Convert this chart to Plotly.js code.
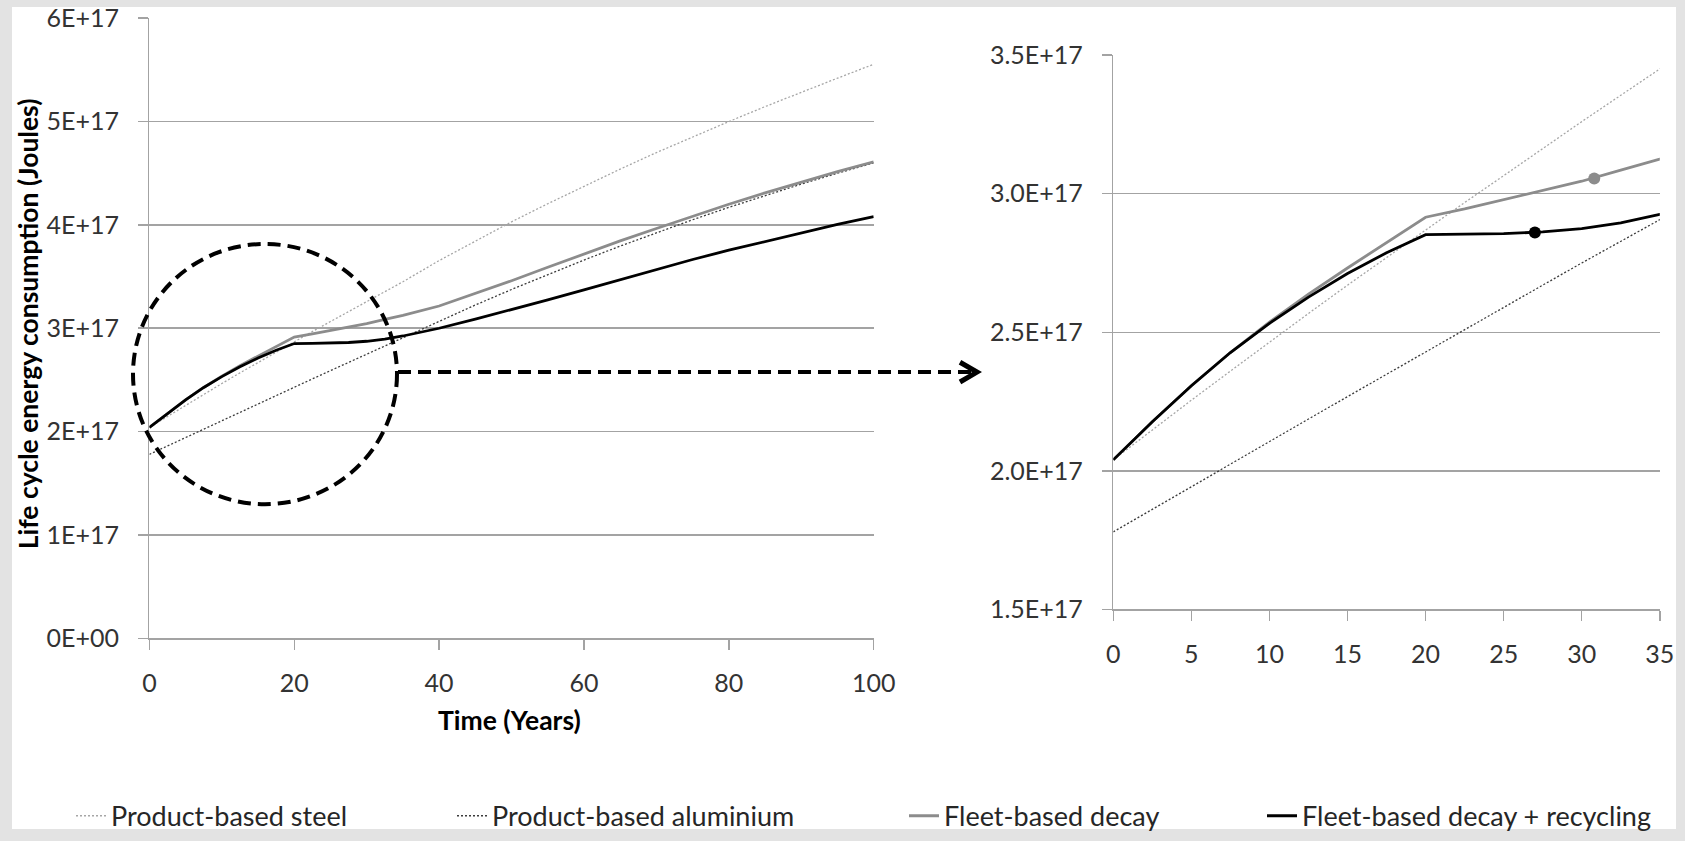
<!DOCTYPE html>
<html>
<head>
<meta charset="utf-8">
<script src="https://cdn.plot.ly/plotly-3.0.1.min.js"></script>
<style>
  html, body { margin: 0; padding: 0; background: #e3e3e3; width: 1685px; height: 841px; overflow: hidden; }
  #chart { position: absolute; left: 0; top: 0; width: 1685px; height: 841px; }
</style>
</head>
<body>
<div id="chart"></div>
<script>
// ---- Data ----
const years = [0, 2.5, 5, 7.5, 10, 12.5, 15, 17.5, 20, 22.5, 25, 27.5, 30, 32.5, 35,
               40, 45, 50, 55, 60, 65, 70, 75, 80, 85, 90, 95, 100];

const steel = [2.04e17, 2.148e17, 2.255e17, 2.36e17, 2.465e17, 2.568e17, 2.67e17, 2.77e17, 2.87e17,
               2.968e17, 3.065e17, 3.163e17, 3.26e17, 3.355e17, 3.45e17,
               3.655e17, 3.845e17, 4.03e17, 4.205e17, 4.375e17, 4.54e17, 4.7e17, 4.853e17, 5.0e17,
               5.145e17, 5.285e17, 5.42e17, 5.555e17];

const aluminium = [1.78e17, 1.862e17, 1.943e17, 2.025e17, 2.106e17, 2.187e17, 2.268e17, 2.349e17, 2.43e17,
                   2.51e17, 2.59e17, 2.67e17, 2.75e17, 2.83e17, 2.91e17,
                   3.07e17, 3.225e17, 3.375e17, 3.52e17, 3.66e17, 3.795e17, 3.925e17, 4.05e17, 4.17e17,
                   4.285e17, 4.395e17, 4.5e17, 4.6e17];

const fleetDecay = [2.04e17, 2.177e17, 2.307e17, 2.427e17, 2.537e17, 2.638e17, 2.732e17, 2.823e17, 2.915e17,
                    2.945e17, 2.978e17, 3.012e17, 3.045e17, 3.085e17, 3.125e17,
                    3.215e17, 3.335e17, 3.46e17, 3.59e17, 3.72e17, 3.845e17, 3.965e17, 4.085e17, 4.2e17,
                    4.31e17, 4.415e17, 4.515e17, 4.61e17];

const fleetRecycling = [2.04e17, 2.177e17, 2.307e17, 2.427e17, 2.532e17, 2.627e17, 2.712e17, 2.787e17, 2.852e17,
                        2.853e17, 2.856e17, 2.862e17, 2.874e17, 2.895e17, 2.925e17,
                        3.0e17, 3.088e17, 3.18e17, 3.275e17, 3.372e17, 3.47e17, 3.57e17, 3.665e17, 3.755e17,
                        3.84e17, 3.925e17, 4.005e17, 4.08e17];

const decayMarkerX = [30.8];
const decayMarkerY = [3.055e17];
const recyclingMarkerX = [27];
const recyclingMarkerY = [2.86e17];

const seriesNames = ['Product-based steel', 'Product-based aluminium', 'Fleet-based decay', 'Fleet-based decay + recycling'];

const leftXTicks = [0, 20, 40, 60, 80, 100];
const leftYTicks = [0, 1e17, 2e17, 3e17, 4e17, 5e17, 6e17];
const leftYTickText = ['0E+00', '1E+17', '2E+17', '3E+17', '4E+17', '5E+17', '6E+17'];
const rightXTicks = [0, 5, 10, 15, 20, 25, 30, 35];
const rightYTicks = [1.5e17, 2.0e17, 2.5e17, 3.0e17, 3.5e17];
const rightYTickText = ['1.5E+17', '2.0E+17', '2.5E+17', '3.0E+17', '3.5E+17'];

const xTitle = 'Time (Years)';
const yTitle = 'Life cycle energy consumption (Joules)';

// ---- Styles ----
const FONT = 'Lato, "Open Sans", sans-serif';
const styles = [
  {color: '#a6a6a6', width: 1.3, dash: '2px,2px'},
  {color: '#3c3c3c', width: 1.3, dash: '2px,2px'},
  {color: '#8c8c8c', width: 2.8, dash: 'solid'},
  {color: '#000000', width: 2.8, dash: 'solid'}
];
const seriesData = [steel, aluminium, fleetDecay, fleetRecycling];
const legendIds = ['legend', 'legend2', 'legend3', 'legend4'];

const traces = [];
seriesData.forEach((ys, i) => {
  traces.push({
    x: years, y: ys, type: 'scatter', mode: 'lines', name: seriesNames[i],
    line: styles[i], xaxis: 'x', yaxis: 'y', legend: legendIds[i], showlegend: true,
    hoverinfo: 'skip'
  });
});
seriesData.forEach((ys, i) => {
  traces.push({
    x: years, y: ys, type: 'scatter', mode: 'lines', name: seriesNames[i],
    line: styles[i], xaxis: 'x2', yaxis: 'y2', showlegend: false, hoverinfo: 'skip'
  });
});
traces.push({x: decayMarkerX, y: decayMarkerY, type: 'scatter', mode: 'markers',
  marker: {color: '#8c8c8c', size: 12}, xaxis: 'x2', yaxis: 'y2', showlegend: false, hoverinfo: 'skip'});
traces.push({x: recyclingMarkerX, y: recyclingMarkerY, type: 'scatter', mode: 'markers',
  marker: {color: '#000000', size: 12}, xaxis: 'x2', yaxis: 'y2', showlegend: false, hoverinfo: 'skip'});

// pixel -> paper helpers (div covers the whole 1685 x 841 page)
const PX = px => px / 1685;
const PY = py => (841 - py) / 841;

const gridColor = '#a3a3a3';
const tickFont = {family: FONT, size: 25, color: '#333333'};

function xAxis(domain, range, ticks, anchor) {
  return {
    domain: domain, range: range, tickmode: 'array', tickvals: ticks,
    showgrid: false, zeroline: false, showline: true, linecolor: gridColor, linewidth: 1.5,
    ticks: 'outside', ticklen: 10, tickwidth: 1.5, tickcolor: gridColor,
    tickfont: tickFont, ticklabelstandoff: 12, ticklabeloverflow: 'allow', anchor: anchor, fixedrange: true
  };
}
function yAxis(domain, range, ticks, text, anchor) {
  return {
    domain: domain, range: range, tickmode: 'array', tickvals: ticks, ticktext: text,
    showgrid: true, gridcolor: gridColor, gridwidth: 1.5, zeroline: false,
    showline: true, linecolor: gridColor, linewidth: 1.5,
    ticks: 'outside', ticklen: 10, tickwidth: 1.5, tickcolor: gridColor,
    tickfont: tickFont, ticklabelstandoff: 14, ticklabeloverflow: 'allow', anchor: anchor, fixedrange: true
  };
}

function legendAt(px) {
  return {x: PX(px), y: PY(828), xanchor: 'left', yanchor: 'middle', orientation: 'h',
          bgcolor: 'rgba(0,0,0,0)', font: {family: FONT, size: 27, color: '#262626'}};
}

const layout = {
  width: 1685, height: 841,
  margin: {l: 0, r: 0, t: 0, b: 0, pad: 0},
  paper_bgcolor: '#e3e3e3', plot_bgcolor: '#ffffff',
  font: {family: FONT, color: '#262626'},
  xaxis: xAxis([PX(149.4), PX(873.7)], [0, 100], leftXTicks, 'y'),
  yaxis: yAxis([PY(647.5), PY(18.5)], [0, 6e17], leftYTicks, leftYTickText, 'x'),
  xaxis2: xAxis([PX(1113.3), PX(1659.8)], [0, 35], rightXTicks, 'y2'),
  yaxis2: yAxis([PY(618.3), PY(55.9)], [1.5e17, 3.5e17], rightYTicks, rightYTickText, 'x2'),
  legend: legendAt(71),
  legend2: legendAt(452),
  legend3: legendAt(904),
  legend4: legendAt(1262),
  annotations: [
    {text: '<b>' + yTitle + '</b>', xref: 'paper', yref: 'paper', x: PX(28), y: PY(329),
     xanchor: 'center', yanchor: 'middle', textangle: -90, showarrow: false,
     font: {family: FONT, size: 26.5, color: '#000000'}},
    {text: '<b>' + xTitle + '</b>', xref: 'paper', yref: 'paper', x: PX(509), y: PY(730),
     xanchor: 'center', yanchor: 'middle', showarrow: false,
     font: {family: FONT, size: 26.5, color: '#000000'}}
  ],
  shapes: [
    {type: 'rect', xref: 'paper', yref: 'paper', x0: PX(12), x1: PX(1676), y0: PY(841), y1: PY(7),
     layer: 'below', line: {width: 0}, fillcolor: '#ffffff'},
    {type: 'circle', xref: 'paper', yref: 'paper', x0: PX(133), x1: PX(397), y0: PY(511.5), y1: PY(247.5),
     line: {color: '#000000', width: 4, dash: '13px,7px'}, fillcolor: 'rgba(0,0,0,0)'},
    {type: 'line', xref: 'paper', yref: 'paper', x0: PX(398), x1: PX(972), y0: PY(377.5), y1: PY(377.5),
     line: {color: '#000000', width: 4, dash: '13px,7px'}},
    {type: 'path', xref: 'paper', yref: 'paper',
     path: 'M' + PX(960) + ',' + PY(367.5) + ' L' + PX(977) + ',' + PY(377.5) + ' L' + PX(960) + ',' + PY(387.5),
     line: {color: '#000000', width: 5}}
  ]
};

Plotly.newPlot('chart', traces, layout, {displayModeBar: false, staticPlot: true});
</script>
</body>
</html>
